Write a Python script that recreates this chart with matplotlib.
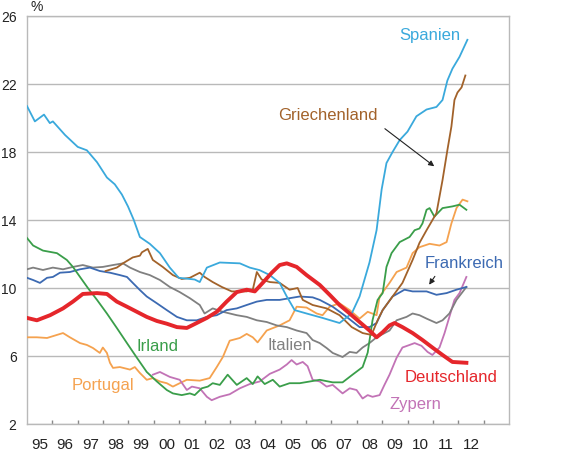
import matplotlib
matplotlib.use("Agg")
import matplotlib.pyplot as plt

plt.rcParams["font.family"] = ["Liberation Sans", "DejaVu Sans"]

# Arbeitslosenquoten in % (Jahr als Dezimalzahl)
spanien_t = [1995.0, 1995.31, 1995.67, 1995.9, 1996.02, 1996.5, 1997.0, 1997.36, 1997.76, 1998.15,
             1998.46, 1998.74, 1998.98, 1999.21, 1999.45, 1999.84, 2000.24, 2000.63, 2000.98, 2001.61,
             2001.81, 2002.09, 2002.6, 2003.39, 2003.78, 2004.17, 2004.57, 2004.96, 2005.24, 2005.55,
             2006.02, 2006.65, 2007.32, 2007.8, 2008.11, 2008.5, 2008.78, 2008.98, 2009.17, 2009.41,
             2009.69, 2010.0, 2010.35, 2010.75, 2011.14, 2011.38, 2011.57, 2011.77, 2012.05, 2012.36]
spanien_v = [20.7, 19.8, 20.2, 19.7, 19.8, 19.0, 18.3, 18.1, 17.4, 16.5,
             16.1, 15.5, 14.8, 14.0, 13.0, 12.6, 12.05, 11.2, 10.6, 10.5,
             10.35, 11.2, 11.5, 11.45, 11.2, 11.05, 10.76, 10.3, 9.5, 8.7,
             8.5, 8.24, 7.94, 8.5, 9.5, 11.5, 13.4, 15.8, 17.35, 18.0,
             18.7, 19.2, 20.1, 20.5, 20.65, 21.06, 22.2, 22.9, 23.6, 24.6]

griechenland_t = [1998.1, 1998.54, 1998.78, 1999.17, 1999.45, 1999.53, 1999.76, 1999.96, 2000.35, 2000.75,
                  2001.1, 2001.42, 2001.81, 2002.0, 2002.32, 2002.68, 2003.07, 2003.66, 2003.9, 2004.06,
                  2004.25, 2004.57, 2004.96, 2005.35, 2005.67, 2005.87, 2006.26, 2006.81, 2007.32, 2007.8,
                  2008.23, 2008.58, 2008.82, 2009.02, 2009.41, 2009.8, 2010.2, 2010.47, 2010.75, 2011.14,
                  2011.38, 2011.57, 2011.73, 2011.85, 2011.97, 2012.13, 2012.28]
griechenland_v = [11.0, 11.2, 11.45, 11.8, 11.9, 12.1, 12.3, 11.65, 11.24, 10.76,
                  10.53, 10.6, 10.9, 10.65, 10.35, 10.06, 9.8, 9.8, 9.9, 10.94,
                  10.5, 10.35, 10.3, 9.9, 10.0, 9.3, 9.0, 8.8, 8.4, 7.7,
                  7.35, 7.24, 8.1, 8.7, 9.5, 10.3, 11.65, 12.65, 13.4, 14.4,
                  16.35, 18.1, 19.5, 21.06, 21.5, 21.8, 22.5]

irland_t = [1995.0, 1995.24, 1995.63, 1996.18, 1996.57, 1996.81, 1997.09, 1997.4, 1997.76, 1998.15,
            1998.54, 1998.94, 1999.33, 1999.72, 2000.12, 2000.51, 2000.75, 2001.1, 2001.42, 2001.61,
            2001.89, 2002.13, 2002.32, 2002.6, 2002.91, 2003.27, 2003.66, 2003.9, 2004.09, 2004.37,
            2004.69, 2004.96, 2005.35, 2005.75, 2006.54, 2007.05, 2007.44, 2007.83, 2008.23, 2008.43,
            2008.5, 2008.62, 2008.82, 2009.02, 2009.17, 2009.37, 2009.69, 2010.08, 2010.28, 2010.47,
            2010.59, 2010.75, 2010.87, 2011.06, 2011.38, 2011.77, 2012.05, 2012.32]
irland_v = [12.94, 12.5, 12.2, 12.05, 11.65, 11.24, 10.65, 10.0, 9.3, 8.5,
            7.65, 6.76, 5.9, 5.06, 4.5, 4.0, 3.8, 3.7, 3.8, 3.7,
            4.1, 4.2, 4.4, 4.3, 4.9, 4.3, 4.7, 4.35, 4.8, 4.35,
            4.6, 4.2, 4.4, 4.4, 4.6, 4.45, 4.45, 4.9, 5.35, 6.2,
            6.9, 8.1, 9.3, 9.7, 11.24, 12.05, 12.7, 13.0, 13.4, 13.5,
            13.8, 14.6, 14.7, 14.2, 14.7, 14.8, 14.9, 14.6]

portugal_t = [1995.0, 1995.39, 1995.79, 1996.18, 1996.42, 1996.69, 1997.09, 1997.36, 1997.6, 1997.87,
              1997.99, 1998.15, 1998.27, 1998.39, 1998.66, 1999.06, 1999.25, 1999.45, 1999.72, 1999.96,
              2000.24, 2000.51, 2000.75, 2001.02, 2001.3, 2001.81, 2002.2, 2002.48, 2002.72, 2002.99,
              2003.39, 2003.66, 2003.9, 2004.09, 2004.45, 2004.96, 2005.35, 2005.63, 2006.02, 2006.42,
              2006.65, 2006.93, 2007.32, 2007.72, 2008.11, 2008.43, 2008.78, 2008.9, 2009.29, 2009.57,
              2009.96, 2010.2, 2010.47, 2010.87, 2011.26, 2011.54, 2011.73, 2011.93, 2012.17, 2012.36]
portugal_v = [7.1, 7.1, 7.06, 7.24, 7.35, 7.1, 6.76, 6.65, 6.47, 6.18,
              6.5, 6.18, 5.6, 5.3, 5.35, 5.2, 5.35, 5.0, 4.6, 4.7,
              4.5, 4.4, 4.2, 4.4, 4.6, 4.55, 4.7, 5.35, 5.94, 6.9,
              7.06, 7.3, 7.1, 6.8, 7.5, 7.8, 8.1, 8.9, 8.85, 8.5,
              8.4, 8.9, 9.1, 8.7, 8.2, 8.6, 8.4, 9.5, 10.3, 10.94,
              11.2, 12.05, 12.4, 12.6, 12.5, 12.7, 13.8, 14.7, 15.2, 15.1]

frankreich_t = [1995.0, 1995.24, 1995.51, 1995.79, 1996.02, 1996.3, 1996.69, 1997.09, 1997.48, 1997.87,
                1998.27, 1998.66, 1998.94, 1999.17, 1999.45, 1999.72, 2000.12, 2000.51, 2000.91, 2001.3,
                2001.69, 2002.09, 2002.48, 2002.87, 2003.27, 2003.66, 2004.06, 2004.45, 2004.96, 2005.35,
                2005.75, 2006.26, 2006.54, 2007.05, 2007.6, 2008.11, 2008.5, 2008.78, 2009.02, 2009.41,
                2009.88, 2010.2, 2010.75, 2011.14, 2011.54, 2011.93, 2012.32]
frankreich_v = [10.6, 10.47, 10.3, 10.6, 10.65, 10.9, 10.94, 11.1, 11.2, 11.0,
                10.9, 10.76, 10.65, 10.3, 9.88, 9.5, 9.1, 8.7, 8.3, 8.1,
                8.1, 8.3, 8.4, 8.7, 8.8, 9.0, 9.2, 9.3, 9.3, 9.4,
                9.5, 9.45, 9.3, 8.9, 8.3, 7.7, 7.7, 7.94, 8.7, 9.5,
                9.9, 9.8, 9.8, 9.6, 9.7, 9.9, 10.06]

italien_t = [1995.0, 1995.24, 1995.63, 1996.02, 1996.42, 1996.81, 1997.2, 1997.6, 1997.99, 1998.39,
             1998.78, 1999.06, 1999.45, 1999.84, 2000.24, 2000.63, 2001.02, 2001.42, 2001.81, 2002.0,
             2002.32, 2002.72, 2003.27, 2003.66, 2004.06, 2004.45, 2004.84, 2005.24, 2005.63, 2006.02,
             2006.26, 2006.54, 2006.81, 2007.05, 2007.44, 2007.72, 2007.99, 2008.23, 2008.5, 2008.78,
             2009.29, 2009.57, 2009.96, 2010.2, 2010.47, 2010.75, 2011.14, 2011.38, 2011.65, 2011.93,
             2012.32]
italien_v = [11.1, 11.2, 11.06, 11.2, 11.1, 11.24, 11.35, 11.2, 11.24, 11.35,
             11.45, 11.2, 10.94, 10.76, 10.47, 10.06, 9.76, 9.4, 9.0, 8.5,
             8.8, 8.6, 8.4, 8.3, 8.1, 8.0, 7.8, 7.7, 7.5, 7.35,
             6.94, 6.76, 6.47, 6.18, 5.94, 6.24, 6.18, 6.5, 6.76, 7.1,
             7.5, 8.1, 8.3, 8.5, 8.4, 8.2, 7.94, 8.1, 8.5, 9.3,
             10.06]

deutschland_t = [1995.0, 1995.39, 1995.91, 1996.42, 1996.81, 1997.2, 1997.76, 1998.15, 1998.54, 1998.94,
                 1999.33, 1999.72, 2000.12, 2000.51, 2000.91, 2001.3, 2001.69, 2002.09, 2002.48, 2002.87,
                 2003.27, 2003.66, 2003.98, 2004.29, 2004.65, 2004.96, 2005.24, 2005.63, 2006.02, 2006.54,
                 2006.93, 2007.32, 2007.72, 2008.11, 2008.5, 2008.78, 2009.02, 2009.29, 2009.49, 2009.8,
                 2010.2, 2010.59, 2010.98, 2011.38, 2011.77, 2012.32]
deutschland_v = [8.24, 8.1, 8.4, 8.8, 9.2, 9.65, 9.7, 9.65, 9.2, 8.9,
                 8.6, 8.3, 8.06, 7.9, 7.7, 7.65, 7.94, 8.24, 8.6, 9.2,
                 9.76, 9.9, 9.8, 10.3, 10.9, 11.35, 11.45, 11.24, 10.76, 10.18,
                 9.6, 9.0, 8.5, 8.0, 7.5, 7.1, 7.4, 7.8, 7.94, 7.7,
                 7.35, 6.94, 6.5, 6.06, 5.65, 5.6]

zypern_t = [1999.96, 2000.24, 2000.63, 2001.02, 2001.3, 2001.5, 2001.81, 2002.09, 2002.28, 2002.6,
            2002.99, 2003.39, 2003.78, 2004.17, 2004.57, 2004.96, 2005.24, 2005.43, 2005.63, 2005.87,
            2006.06, 2006.26, 2006.54, 2006.81, 2007.05, 2007.44, 2007.72, 2007.99, 2008.23, 2008.43,
            2008.62, 2008.9, 2009.09, 2009.29, 2009.57, 2009.8, 2010.08, 2010.28, 2010.55, 2010.79,
            2010.98, 2011.26, 2011.46, 2011.65, 2011.85, 2012.05, 2012.32]
zypern_v = [4.9, 5.06, 4.77, 4.6, 4.0, 4.2, 4.1, 3.6, 3.4, 3.6,
            3.75, 4.1, 4.35, 4.5, 4.95, 5.2, 5.5, 5.76, 5.5, 5.65,
            5.4, 4.6, 4.5, 4.2, 4.3, 3.8, 4.1, 4.0, 3.5, 3.7,
            3.6, 3.7, 4.3, 4.9, 5.9, 6.5, 6.65, 6.76, 6.6, 6.24,
            6.06, 6.5, 7.35, 8.3, 9.3, 9.7, 10.65]

years = list(range(1995, 2013))
year_labels = ["95", "96", "97", "98", "99", "00", "01", "02", "03", "04",
               "05", "06", "07", "08", "09", "10", "11", "12"]
y_ticks = [2, 6, 10, 14, 18, 22, 26]

# Farben
c_es = "#3aa9dc"
c_gr = "#a2622a"
c_ie = "#3a9e4a"
c_pt = "#f5a24f"
c_fr = "#3c6ab2"
c_it = "#808080"
c_de = "#e5262b"
c_cy = "#c273b6"
grid_c = "#b9b9b9"

fig = plt.figure(figsize=(5.66, 4.59), dpi=100)
ax = fig.add_axes([27 / 566, 1 - 424 / 459, 482 / 566, 408 / 459])

ax.plot(portugal_t, portugal_v, color=c_pt, lw=1.3, zorder=3)
ax.plot(zypern_t, zypern_v, color=c_cy, lw=1.3, zorder=3)
ax.plot(italien_t, italien_v, color=c_it, lw=1.3, zorder=3)
ax.plot(frankreich_t, frankreich_v, color=c_fr, lw=1.3, zorder=3)
ax.plot(irland_t, irland_v, color=c_ie, lw=1.3, zorder=3)
ax.plot(griechenland_t, griechenland_v, color=c_gr, lw=1.3, zorder=3)
ax.plot(spanien_t, spanien_v, color=c_es, lw=1.3, zorder=3)
ax.plot(deutschland_t, deutschland_v, color=c_de, lw=2.8, zorder=4)

ax.set_xlim(1995, 2014)
ax.set_ylim(2, 26)

# Achsen / Raster
for s in ax.spines.values():
    s.set_color(grid_c)
    s.set_linewidth(1.0)
ax.set_yticks(y_ticks)
ax.set_yticklabels([str(v) for v in y_ticks])
ax.tick_params(axis="y", length=0, pad=7.5, labelsize=10, labelcolor="#222222")
ax.yaxis.grid(True, color=grid_c, lw=1.0, zorder=1)
ax.set_axisbelow(True)

ax.set_xticks([y for y in years[1:]] + [2013])
ax.set_xticklabels([])
ax.tick_params(axis="x", which="major", direction="in", length=3, color="#888888", width=1)
ax.set_xticks([y + 0.5 for y in years], minor=True)
ax.set_xticklabels(year_labels, minor=True)
ax.tick_params(axis="x", which="minor", length=0, pad=10, labelsize=11, labelcolor="#222222")

fig.text(37 / 566, 1 - 7 / 459, "%", fontsize=10, ha="center", va="center", color="#222222")

# Beschriftungen
ax.text(2010.87, 24.88, "Spanien", color=c_es, fontsize=12, ha="center", va="center")
ax.text(2006.85, 20.12, "Griechenland", color=c_gr, fontsize=12, ha="center", va="center")
ax.annotate("", xy=(2011.14, 17.06), xytext=(2009.02, 19.47),
            arrowprops=dict(arrowstyle="-|>", color="#222222", lw=0.8, mutation_scale=8))
ax.text(2012.24, 11.47, "Frankreich", color=c_fr, fontsize=12, ha="center", va="center")
ax.annotate("", xy=(2010.79, 10.06), xytext=(2011.14, 10.82),
            arrowprops=dict(arrowstyle="-|>", color="#222222", lw=0.8, mutation_scale=8))
ax.text(2000.16, 6.53, "Irland", color=c_ie, fontsize=12, ha="center", va="center")
ax.text(1997.99, 4.29, "Portugal", color=c_pt, fontsize=12, ha="center", va="center")
ax.text(2005.35, 6.59, "Italien", color=c_it, fontsize=12, ha="center", va="center")
ax.text(2011.73, 4.71, "Deutschland", color=c_de, fontsize=12, ha="center", va="center")
ax.text(2010.31, 3.12, "Zypern", color=c_cy, fontsize=12, ha="center", va="center")

fig.savefig("out.png", dpi=100)
